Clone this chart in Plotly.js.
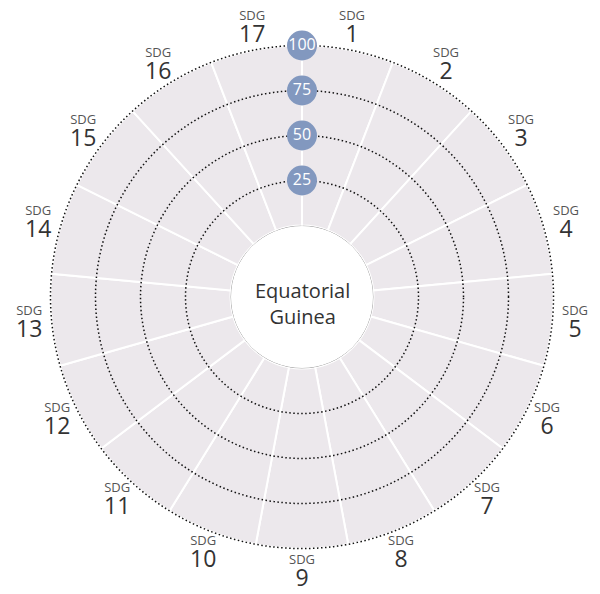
<!DOCTYPE html>
<html><head><meta charset="utf-8">
<script src="https://cdn.plot.ly/plotly-3.0.1.min.js"></script>
<style>body{margin:0;background:#fff}#c{width:600px;height:594px}</style>
</head><body><div id="c"></div>
<script>
const country = "Equatorial<br>Guinea";
const goals = ["1","2","3","4","5","6","7","8","9","10","11","12","13","14","15","16","17"];
const backgroundValues = [100,100,100,100,100,100,100,100,100,100,100,100,100,100,100,100,100];
const radialTicks = [25,50,75,100];
const radialTickLabels = ["25","50","75","100"];

const n = goals.length;
const step = 360/n;
const thetas = goals.map((g,i)=> i*step + step/2);

const font = "'Open Sans', 'Noto Sans', sans-serif";
const cx = 302, cy = 297, W = 600, H = 594, R = 251.5, hole = 71.5;
const domainFor = (rad)=>({x:[(cx-rad)/W,(cx+rad)/W], y:[1-(cy+rad)/H, 1-(cy-rad)/H]});
// second (overlay) polar is slightly larger so its outermost grid circle (100) is drawn
const R2 = R + 3;
const rmax2 = 100*(R2-hole)/(R-hole);

const traces = [
  {
    type:'barpolar', subplot:'polar', r: backgroundValues, theta: thetas, width: goals.map(()=>step),
    marker:{color:'#ece8ec', line:{color:'#ffffff', width:2}},
    hoverinfo:'skip', showlegend:false
  },
  {
    type:'scatterpolar', subplot:'polar2', mode:'markers+text', r: radialTicks, theta: radialTicks.map(()=>0),
    text: radialTickLabels, textposition:'middle center',
    textfont:{color:'#ffffff', size:16, family:font},
    marker:{size:30, color:'#8298bf', line:{width:0}}, cliponaxis:false,
    hoverinfo:'skip', showlegend:false
  }
];

const annotations = goals.map((g,i)=>{
  const a = thetas[i]*Math.PI/180;
  const rl = 274;
  const x = cx + rl*Math.sin(a), y = cy - rl*Math.cos(a);
  return {
    xref:'paper', yref:'paper', x: x/W, y: 1 - y/H, xanchor:'center', yanchor:'middle',
    showarrow:false,
    text: '<span style="font-size:13px;color:#555">SDG</span><br><span style="font-size:23px;color:#333">'+g+'</span>',
    font:{family:font, size:17, color:'#333'}
  };
});
annotations.push({
  xref:'paper', yref:'paper', x: cx/W, y: 1 - (cy+6)/H, xanchor:'center', yanchor:'middle',
  showarrow:false, text: country, font:{family:font, size:20, color:'#333'}
});

const radialCommon = {showticklabels:false, ticks:'', showline:false};
const angularCommon = {rotation:90, direction:'clockwise', showgrid:false, showticklabels:false, ticks:'', showline:false};

const layout = {
  width:W, height:H, margin:{l:0,r:0,t:0,b:0},
  paper_bgcolor:'#fff', plot_bgcolor:'#fff',
  showlegend:false,
  shapes:[{
    type:'circle', xref:'paper', yref:'paper',
    x0:(cx-hole)/W, x1:(cx+hole)/W, y0:1-(cy+hole)/H, y1:1-(cy-hole)/H,
    line:{color:'#999', width:1}, fillcolor:'#ffffff', layer:'below'
  }],
  polar:{
    domain: domainFor(R), hole: hole/R, bgcolor:'rgba(0,0,0,0)',
    radialaxis:Object.assign({range:[0,100], showgrid:false}, radialCommon),
    angularaxis:Object.assign({}, angularCommon)
  },
  polar2:{
    domain: domainFor(R2), hole: hole/R2, bgcolor:'rgba(0,0,0,0)',
    radialaxis:Object.assign({range:[0,rmax2], tickvals:radialTicks, showgrid:true, gridcolor:'#111', griddash:'1.5px,2.5px', gridwidth:1.5}, radialCommon),
    angularaxis:Object.assign({}, angularCommon)
  },
  annotations: annotations
};
Plotly.newPlot('c', traces, layout, {displayModeBar:false, staticPlot:true});
</script></body></html>
